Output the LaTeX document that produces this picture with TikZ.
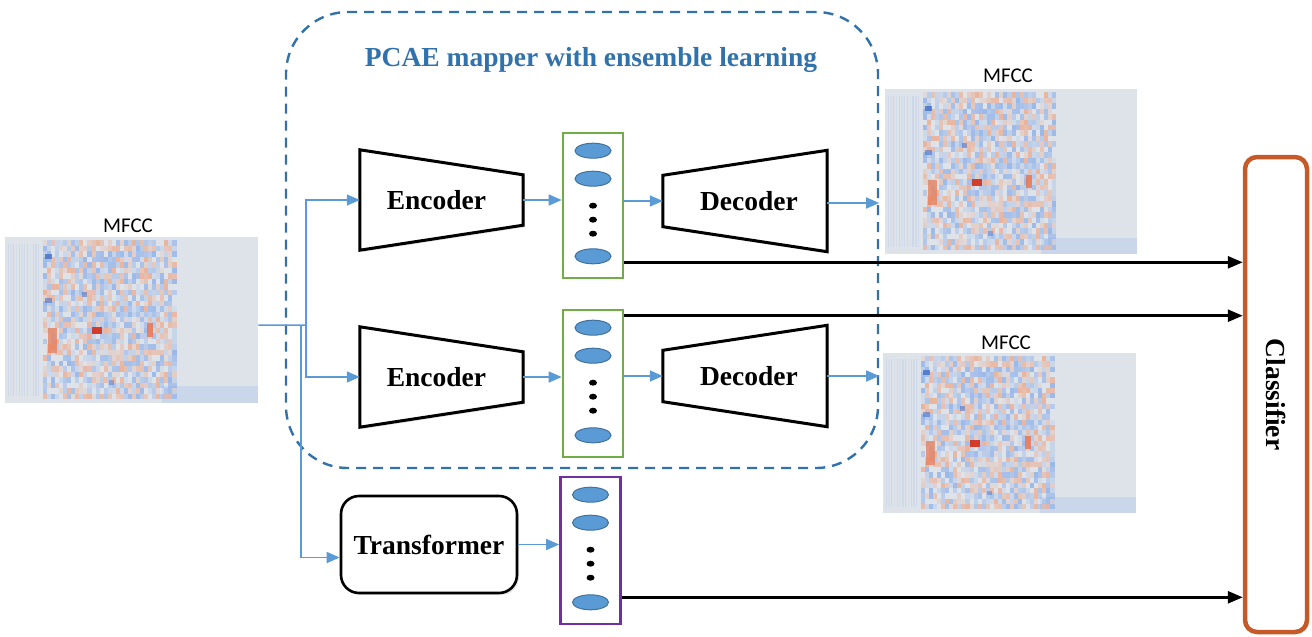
\documentclass[tikz,border=0pt]{standalone}
\usepackage{fontspec}
\setmainfont{Liberation Serif}
\newfontfamily\labelfont{Carlito}
\usetikzlibrary{arrows.meta,calc,shadows,shapes.geometric}

\definecolor{arrowblue}{HTML}{5B9BD5}
\definecolor{frameblue}{HTML}{3272AC}
\definecolor{latgreen}{HTML}{70AD47}
\definecolor{latpurple}{HTML}{7030A0}
\definecolor{clforange}{HTML}{C55A28}
\definecolor{unitfill}{HTML}{5B9BD5}
\definecolor{unitedge}{HTML}{41719C}
\definecolor{mfccbg}{HTML}{DEE3EA}
\definecolor{mfccblue}{HTML}{6F9DE8}
\definecolor{mfccdark}{HTML}{3563C4}
\definecolor{mfccred}{HTML}{F2956A}
\definecolor{mfcchot}{HTML}{D2301A}

\tikzset{
  boldlabel/.style={font=\fontsize{27.5}{30}\selectfont\bfseries},
  trapframe/.style={inner sep=0pt, boldlabel},
  trapline/.style={draw=black, line width=3pt, line join=miter, fill=white,
    drop shadow={opacity=0.18, shadow xshift=2pt, shadow yshift=-2pt}},
  latbox/.style={draw, line width=2.6pt, fill=white, minimum width=60pt, inner sep=0pt},
  unit/.style={ellipse, draw=unitedge, line width=1pt, fill=unitfill,
    minimum width=36pt, minimum height=15pt, inner sep=0pt},
  unitdot/.style={ellipse, fill=black, minimum width=8pt, minimum height=6pt, inner sep=0pt},
  feed/.style={draw=arrowblue, line width=1.5pt, -{Triangle[length=13pt,width=11pt]}},
  feedline/.style={draw=arrowblue, line width=1.5pt},
  tofinal/.style={draw=black, line width=2.6pt, -{Triangle[length=15pt,width=12pt]}},
  mfcclabel/.style={font=\labelfont\fontsize{21}{23}\selectfont, inner sep=0pt},
}

% spectrogram-like panel: name, x, y (top left), width, height
\newcommand{\mfccpanel}[5]{%
  \node[inner sep=0pt, minimum width=#4pt, minimum height=#5pt, anchor=north west] (#1) at (#2,#3) {};
  \pgfmathsetmacro{\mfw}{#4/100}%
  \pgfmathsetmacro{\mfh}{#5/100}%
  \begin{scope}[shift={(#1.north west)}, x=\mfw pt, y=-\mfh pt]
    \pgfmathsetseed{4711}
    \fill[mfccbg] (0,0) rectangle (100,100);
    \fill[mfccblue!18!mfccbg] (62,90) rectangle (100,100);
    \foreach \mc in {0,...,11}{%
      \pgfmathsetmacro{\mfo}{0.05+0.12*rnd}%
      \fill[mfccblue, fill opacity=\mfo] (1+\mc*1.1,4) rectangle +(0.5,92);
    }
    \foreach \mc in {0,...,32}{%
      \foreach \mr in {0,...,28}{%
        \pgfmathsetmacro{\mfr}{rnd}%
        \pgfmathsetmacro{\mfo}{0.1+0.5*rnd}%
        \ifdim\mfr pt<0.5pt
          \fill[mfccblue, fill opacity=\mfo] (15+\mc*1.6,2+\mr*3.3) rectangle +(1.6,3.3);
        \else\ifdim\mfr pt<0.86pt
          \fill[mfccred, fill opacity=\mfo] (15+\mc*1.6,2+\mr*3.3) rectangle +(1.6,3.3);
        \fi\fi
      }
    }
    \fill[mfccdark, fill opacity=0.7] (16,10.5) rectangle (18.5,13.5);
    \fill[mfccdark, fill opacity=0.5] (16,37) rectangle (18.5,40);
    \fill[mfccdark, fill opacity=0.5] (30.5,33) rectangle (32.5,36);
    \fill[mfccdark, fill opacity=0.4] (41,86) rectangle (43,89);
    \fill[mfccred!75!mfcchot, fill opacity=0.75] (17,55) rectangle (20.5,70);
    \fill[mfcchot, fill opacity=0.9] (34.5,54.5) rectangle (38.5,58.5);
    \fill[mfccred!65!mfcchot, fill opacity=0.8] (56,52) rectangle (58.5,60);
  \end{scope}
}

% latent column: name, centre, height, colour
\newcommand{\latentcol}[4]{%
  \node[latbox, draw=#4, minimum height=#3pt] (#1) at (#2) {};
  \node[unit] (#1a) at ([yshift=-19pt]#1.north) {};
  \node[unit] (#1b) at ([yshift=-47pt]#1.north) {};
  \node[unitdot] (#1c) at ([yshift=-74pt]#1.north) {};
  \node[unitdot] (#1d) at ([yshift=-88pt]#1.north) {};
  \node[unitdot] (#1e) at ([yshift=-102pt]#1.north) {};
  \node[unit] (#1f) at ([yshift=23pt]#1.south) {};
}

% narrowing block (encoder) and widening block (decoder)
\newcommand{\narrowblock}[3]{%
  \node[trapframe, minimum width=163pt, minimum height=100pt] (#1) at (#2) {};
  \draw[trapline] (#1.north west) -- ([yshift=-25pt]#1.north east)
    -- ([yshift=25pt]#1.south east) -- (#1.south west) -- cycle;
  \node[boldlabel, inner sep=0pt] (#1t) at ([xshift=-5pt]#1.center) {#3};
}
\newcommand{\wideblock}[3]{%
  \node[trapframe, minimum width=164pt, minimum height=101pt] (#1) at (#2) {};
  \draw[trapline] ([yshift=-25pt]#1.north west) -- (#1.north east)
    -- (#1.south east) -- ([yshift=25pt]#1.south west) -- cycle;
  \node[boldlabel, inner sep=0pt] (#1t) at ([xshift=4pt]#1.center) {#3};
}

\begin{document}
\begin{tikzpicture}[x=1pt, y=-1pt]
  \useasboundingbox (0,0) rectangle (1312,637);

  % ensemble region
  \node[draw=frameblue, line width=2.4pt, dash pattern=on 10pt off 7pt,
        rounded corners=62pt, minimum width=592pt, minimum height=456pt,
        inner sep=0pt] (pcae) at (582,240) {};
  \node[boldlabel, text=frameblue] (title) at (591,60) {PCAE mapper with ensemble learning};

  % input and reconstructed features
  \mfccpanel{mfccin}{5}{237}{253}{166}
  \node[mfcclabel] (mfccinlab) at (128,226) {MFCC};
  \mfccpanel{mfccup}{885}{89}{252}{165}
  \node[mfcclabel] (mfccuplab) at (1008,76) {MFCC};
  \mfccpanel{mfcclo}{883}{353}{253}{160}
  \node[mfcclabel] (mfccloLab) at (1006,343) {MFCC};

  % encoders, decoders, transformer
  \narrowblock{enc1}{441.5,200}{Encoder}
  \narrowblock{enc2}{441.5,377}{Encoder}
  \wideblock{dec1}{745,201}{Decoder}
  \wideblock{dec2}{745,376}{Decoder}
  \node[draw, line width=2.6pt, rounded corners=18pt, fill=white,
        minimum width=176pt, minimum height=97pt, inner sep=0pt, boldlabel,
        drop shadow={opacity=0.18, shadow xshift=2pt, shadow yshift=-2pt}]
        (trf) at (429,544.5) {Transformer};

  % latent representations
  \latentcol{lat1}{593,205.5}{145}{latgreen}
  \latentcol{lat2}{593,383.5}{147}{latgreen}
  \latentcol{lat3}{590.5,550.5}{147}{latpurple}

  % classifier
  \node[draw=clforange, line width=4.5pt, rounded corners=12pt, fill=white,
        minimum width=62pt, minimum height=475pt, inner sep=0pt,
        drop shadow={opacity=0.18, shadow xshift=2pt, shadow yshift=-2pt}]
        (clf) at (1276,394.5) {};
  \node[boldlabel, rotate=-90, inner sep=0pt] (clft) at (clf.center) {Classifier};

  % input fan-out
  \coordinate (split) at (306,325);
  \coordinate (splitb) at (301,325);
  \draw[feedline] ([yshift=-5pt]mfccin.east) -- (split);
  \draw[feed] (split) |- (enc1.west);
  \draw[feed] (split) |- (enc2.west);
  \draw[feed] (splitb) |- ([yshift=-13pt]trf.west);

  % internal flow
  \draw[feed] (enc1.east) -- (enc1.east -| lat1.west);
  \draw[feed] (enc2.east) -- (enc2.east -| lat2.west);
  \draw[feed] (trf.east) -- (trf.east -| lat3.west);
  \draw[feed] (dec1.west -| lat1.east) -- (dec1.west);
  \draw[feed] (dec2.west -| lat2.east) -- (dec2.west);
  \draw[feed] ([yshift=-2pt]dec1.east) -- ([yshift=-2pt]dec1.east -| pcae.east);
  \draw[feed] (dec2.east) -- (dec2.east -| pcae.east);

  % latent codes to classifier
  \draw[tofinal] ([yshift=17pt]lat1.south east) -- ([yshift=17pt]lat1.south east -| clf.west);
  \draw[tofinal] ([yshift=-7pt]lat2.north east) -- ([yshift=-7pt]lat2.north east -| clf.west);
  \draw[tofinal] ([yshift=28pt]lat3.south east) -- ([yshift=28pt]lat3.south east -| clf.west);
\end{tikzpicture}
\end{document}
